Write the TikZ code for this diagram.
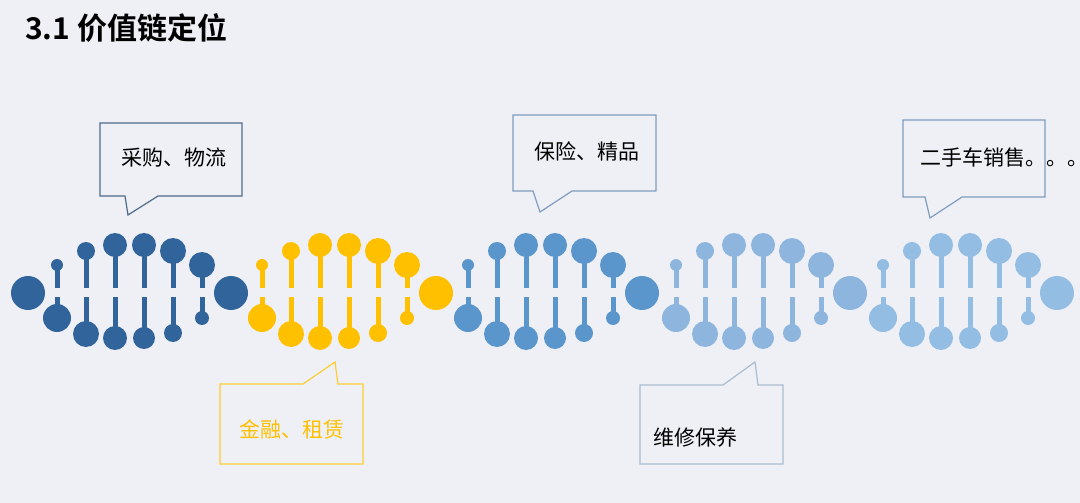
\documentclass[tikz,border=0pt]{standalone}
\usepackage{fontspec}
\newfontfamily\cjk{Noto Sans CJK SC}
\newfontfamily\cjkb{Noto Sans CJK SC Bold}
\definecolor{bg}{HTML}{EEF0F5}
\definecolor{cA}{HTML}{30649A}
\definecolor{cB}{HTML}{FFC000}
\definecolor{cC}{HTML}{5A96CC}
\definecolor{cD}{HTML}{8DB5DE}
\definecolor{cE}{HTML}{93BDE3}
\definecolor{bA}{HTML}{4F6B8A}
\definecolor{bC}{HTML}{7F9DBF}
\definecolor{bD}{HTML}{A9BCD0}
\tikzset{
  callout/.style={line width=1.2pt,fill=bg,line join=miter},
  lbl/.style={font=\cjk\fontsize{21}{21}\selectfont,inner sep=0pt},
  bar/.style={line width=5pt},
}
\newcommand{\dnaseg}[2]{%
  \begin{scope}[xshift=#1pt,color=#2,fill=#2]
    \foreach \dx/\ty/\tr/\by/\br in {0/265/6/318/14, 29/251/9/334/13, 58/245/12/338/12, 87/245/12/338/11, 116/251/13/333/9, 145/265/13/318/7}{
      \draw[bar,#2] (\dx,\ty) -- (\dx,288);
      \draw[bar,#2] (\dx,297) -- (\dx,\by);
      \fill[#2] (\dx,\ty) circle (\tr);
      \fill[#2] (\dx,\by) circle (\br);
    }
    \fill[#2] (174,293) circle (17);
  \end{scope}}
\begin{document}
\begin{tikzpicture}[x=1pt,y=-1pt]
\fill[bg] (0,0) rectangle (1080,503);
\useasboundingbox (0,0) rectangle (1080,503);
\node[anchor=west,inner sep=0pt,font=\cjkb\fontsize{30}{30}\selectfont] (title) at (25,28) {3.1 价值链定位};
% DNA
\fill[cA] (28,293) circle (17);
\dnaseg{57}{cA}
\dnaseg{262}{cB}
\dnaseg{468}{cC}
\dnaseg{676}{cD}
\dnaseg{883}{cE}
% callouts
\draw[callout,draw=bA] (100,123) -- (242,123) -- (242,196) -- (158,196) -- (128,215) -- (125,196) -- (100,196) -- cycle;
\node[lbl] (t1) at (174,158) {采购、物流};
\draw[callout,draw=bC] (513,115) -- (656,115) -- (656,191) -- (572,191) -- (540,212) -- (533,191) -- (513,191) -- cycle;
\node[lbl] (t2) at (587,151) {保险、精品};
\draw[callout,draw=bC] (903,120) -- (1045,120) -- (1045,197) -- (962,197) -- (930,218) -- (925,197) -- (903,197) -- cycle;
\node[lbl,anchor=west] (t3) at (920,157) {二手车销售。。。};
\draw[callout,draw=cB!80!white] (220,384) -- (303,384) -- (335,362) -- (338,384) -- (363,384) -- (363,464) -- (220,464) -- cycle;
\node[lbl,text=cB] (t4) at (292,429) {金融、租赁};
\draw[callout,draw=bD] (640,385) -- (723,385) -- (755,362) -- (758,385) -- (783,385) -- (783,464) -- (640,464) -- cycle;
\node[lbl,anchor=west] (t5) at (653,437) {维修保养};
\end{tikzpicture}
\end{document}
